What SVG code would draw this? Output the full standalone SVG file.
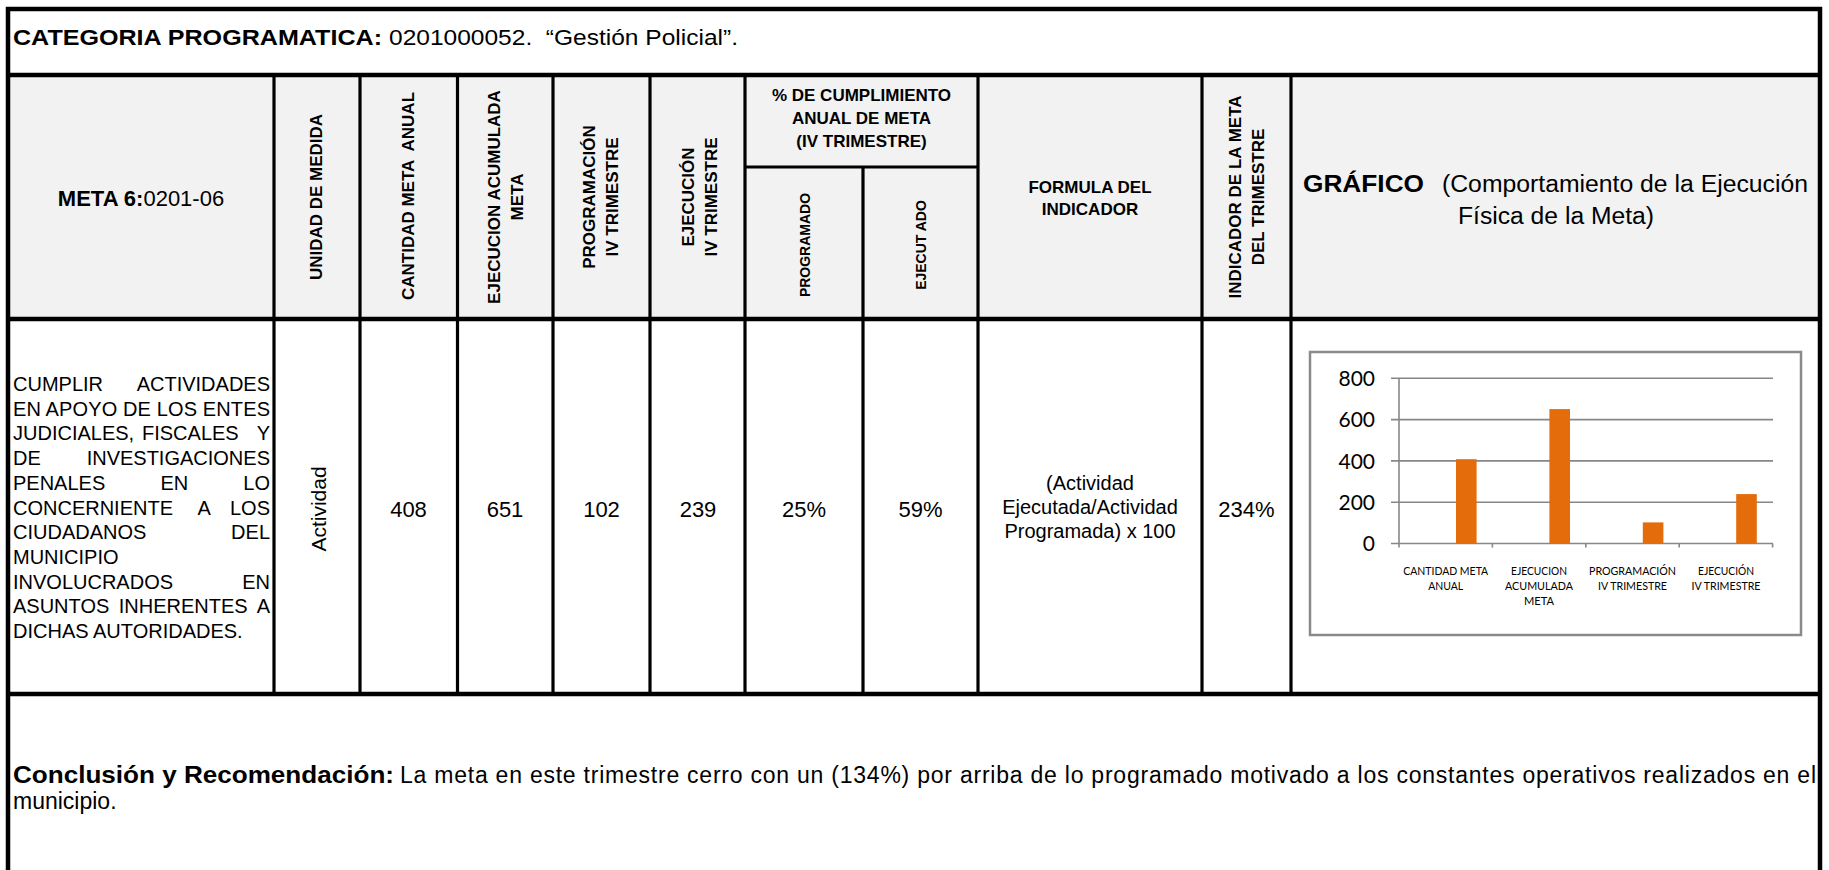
<svg xmlns="http://www.w3.org/2000/svg" width="1829" height="870" viewBox="0 0 1829 870">
<style>
  .t{font-family:"Liberation Sans",Arial,Helvetica,sans-serif;fill:#000}
  .b{font-weight:bold}
  .vh{font-family:"Liberation Sans",Arial,sans-serif;font-weight:bold;font-size:17px;text-anchor:middle}
  .sh{font-family:"Liberation Sans",Arial,sans-serif;font-weight:bold;font-size:14px;text-anchor:middle}
  .hc{font-family:"Liberation Sans",Arial,sans-serif;font-weight:bold;font-size:17px;text-anchor:middle}
  .d{font-family:"Liberation Sans",Arial,sans-serif;font-size:20px}
  .num{font-family:"Liberation Sans",Arial,sans-serif;font-size:22px;text-anchor:middle}
  .thick{stroke:#000;stroke-width:4.5;fill:none}
  .col{stroke:#000;stroke-width:3.2;fill:none}
  .grid{stroke:#878787;stroke-width:1.6;fill:none}
  .bar{fill:#e46c0a}
  .ylab{font-family:Lato,"Open Sans",sans-serif;font-size:21px;text-anchor:end;fill:#000}
  .clab{font-family:Lato,"Open Sans",sans-serif;font-size:11px;text-anchor:middle;fill:#000}
</style>

<!-- backgrounds -->
<g id="backgrounds">
  <rect x="8" y="9" width="1812" height="880" fill="#ffffff"/>
  <rect x="8" y="75" width="1812" height="244" fill="#f2f2f2"/>
</g>

<!-- grid lines of the table -->
<g id="table-lines">
  <rect class="thick" x="8" y="9" width="1812" height="900"/>
  <line class="thick" x1="8" y1="75" x2="1820" y2="75"/>
  <line class="thick" x1="8" y1="319" x2="1820" y2="319"/>
  <line class="thick" x1="8" y1="694" x2="1820" y2="694"/>
  <line class="col" x1="274" y1="75" x2="274" y2="694"/>
  <line class="col" x1="360" y1="75" x2="360" y2="694"/>
  <line class="col" x1="457.5" y1="75" x2="457.5" y2="694"/>
  <line class="col" x1="553" y1="75" x2="553" y2="694"/>
  <line class="col" x1="650" y1="75" x2="650" y2="694"/>
  <line class="col" x1="745" y1="75" x2="745" y2="694"/>
  <line class="col" x1="863" y1="167" x2="863" y2="694"/>
  <line class="col" x1="978" y1="75" x2="978" y2="694"/>
  <line class="col" x1="1202" y1="75" x2="1202" y2="694"/>
  <line class="col" x1="1291" y1="75" x2="1291" y2="694"/>
  <line class="col" x1="745" y1="167" x2="978" y2="167"/>
</g>

<g id="title">
  <text class="t b" x="13" y="45" font-size="22" textLength="369" lengthAdjust="spacingAndGlyphs">CATEGORIA PROGRAMATICA:</text>
  <text class="t" x="389" y="45" font-size="22" textLength="349" lengthAdjust="spacingAndGlyphs" xml:space="preserve">0201000052.  “Gestión Policial”.</text>
</g>

<g id="h-meta">
  <text class="t" x="141" y="206" font-size="22" text-anchor="middle"><tspan font-weight="bold">META 6:</tspan>0201-06</text>
</g>
<g id="h-unidad">
  <text class="vh" transform="translate(316,197) rotate(-90)" y="6">UNIDAD DE MEDIDA</text>
</g>
<g id="h-cantidad">
  <text class="vh" transform="translate(407.5,196) rotate(-90)" y="6" xml:space="preserve">CANTIDAD META  ANUAL</text>
</g>
<g id="h-ejec-acum">
  <text class="vh" transform="translate(505,197) rotate(-90)"><tspan x="0" y="-5.5">EJECUCION ACUMULADA</tspan><tspan x="0" y="17.5">META</tspan></text>
</g>
<g id="h-prog-iv">
  <text class="vh" transform="translate(600,197) rotate(-90)"><tspan x="0" y="-5.5">PROGRAMACIÓN</tspan><tspan x="0" y="17.5">IV TRIMESTRE</tspan></text>
</g>
<g id="h-ejec-iv">
  <text class="vh" transform="translate(699,197) rotate(-90)"><tspan x="0" y="-5.5">EJECUCIÓN</tspan><tspan x="0" y="17.5">IV TRIMESTRE</tspan></text>
</g>
<g id="h-cumplimiento">
  <text class="hc" x="861.5" y="101">% DE CUMPLIMIENTO</text>
  <text class="hc" x="861.5" y="124">ANUAL DE META</text>
  <text class="hc" x="861.5" y="147">(IV TRIMESTRE)</text>
</g>
<g id="h-programado">
  <text class="sh" transform="translate(805,245) rotate(-90)" y="5">PROGRAMADO</text>
</g>
<g id="h-ejecutado">
  <text class="sh" transform="translate(921,245) rotate(-90)" y="5">EJECUT ADO</text>
</g>
<g id="h-formula">
  <text class="hc" x="1090" y="193">FORMULA DEL</text>
  <text class="hc" x="1090" y="215">INDICADOR</text>
</g>
<g id="h-indicador">
  <text class="vh" transform="translate(1246,197) rotate(-90)"><tspan x="0" y="-5.5">INDICADOR DE LA META</tspan><tspan x="0" y="17.5">DEL TRIMESTRE</tspan></text>
</g>
<g id="h-grafico">
  <text class="t b" x="1303" y="192" font-size="23" textLength="121" lengthAdjust="spacingAndGlyphs">GRÁFICO</text>
  <text class="t" x="1442" y="192" font-size="23" textLength="366" lengthAdjust="spacingAndGlyphs">(Comportamiento de la Ejecución</text>
  <text class="t" x="1458" y="224" font-size="23" textLength="196" lengthAdjust="spacingAndGlyphs">Física de la Meta)</text>
</g>

<!-- data row -->
<g id="d-descripcion" class="d">
  <text x="13" y="391">CUMPLIR</text><text x="270" y="391" text-anchor="end">ACTIVIDADES</text>
  <text x="13" y="415.7" textLength="257" lengthAdjust="spacing">EN APOYO DE LOS ENTES</text>
  <text x="13" y="440.4">JUDICIALES,</text><text x="142" y="440.4">FISCALES</text><text x="270" y="440.4" text-anchor="end">Y</text>
  <text x="13" y="465.1">DE</text><text x="270" y="465.1" text-anchor="end">INVESTIGACIONES</text>
  <text x="13" y="489.8">PENALES</text><text x="160.5" y="489.8">EN</text><text x="270" y="489.8" text-anchor="end">LO</text>
  <text x="13" y="514.5">CONCERNIENTE</text><text x="197.6" y="514.5">A</text><text x="270" y="514.5" text-anchor="end">LOS</text>
  <text x="13" y="539.2">CIUDADANOS</text><text x="270" y="539.2" text-anchor="end">DEL</text>
  <text x="13" y="563.9">MUNICIPIO</text>
  <text x="13" y="588.6">INVOLUCRADOS</text><text x="270" y="588.6" text-anchor="end">EN</text>
  <text x="13" y="613.3">ASUNTOS</text><text x="118.7" y="613.3">INHERENTES</text><text x="270" y="613.3" text-anchor="end">A</text>
  <text x="13" y="638">DICHAS AUTORIDADES.</text>
</g>
<g id="d-unidad">
  <text class="t" font-size="21" text-anchor="middle" transform="translate(318,509) rotate(-90)" y="7.5">Actividad</text>
</g>
<g id="d-valores">
  <text class="num" x="408.5" y="517">408</text>
  <text class="num" x="505" y="517">651</text>
  <text class="num" x="601.5" y="517">102</text>
  <text class="num" x="698" y="517">239</text>
  <text class="num" x="804" y="517">25%</text>
  <text class="num" x="920.5" y="517">59%</text>
  <text class="num" x="1246.5" y="517">234%</text>
</g>
<g id="d-formula">
  <text class="d" x="1090" y="490" text-anchor="middle">(Actividad</text>
  <text class="d" x="1090" y="514" text-anchor="middle">Ejecutada/Actividad</text>
  <text class="d" x="1090" y="538" text-anchor="middle">Programada) x 100</text>
</g>

<!-- chart -->
<g id="chart">
  <rect x="1310" y="352" width="491" height="283" fill="#ffffff" stroke="#8a8a8a" stroke-width="2.5"/>
  <line class="grid" x1="1391" y1="378.3" x2="1773" y2="378.3"/>
  <line class="grid" x1="1391" y1="419.6" x2="1773" y2="419.6"/>
  <line class="grid" x1="1391" y1="460.9" x2="1773" y2="460.9"/>
  <line class="grid" x1="1391" y1="502.2" x2="1773" y2="502.2"/>
  <line class="grid" x1="1391" y1="543.5" x2="1773" y2="543.5"/>
  <line class="grid" x1="1399" y1="378.3" x2="1399" y2="547.5"/>
  <line class="grid" x1="1492.4" y1="543.5" x2="1492.4" y2="547.5"/>
  <line class="grid" x1="1585.8" y1="543.5" x2="1585.8" y2="547.5"/>
  <line class="grid" x1="1679.2" y1="543.5" x2="1679.2" y2="547.5"/>
  <line class="grid" x1="1772.6" y1="543.5" x2="1772.6" y2="547.5"/>
  <rect class="bar" x="1456" y="459.2" width="20.6" height="84.3"/>
  <rect class="bar" x="1549.4" y="409.1" width="20.6" height="134.4"/>
  <rect class="bar" x="1642.8" y="522.4" width="20.6" height="21.1"/>
  <rect class="bar" x="1736.2" y="494.1" width="20.6" height="49.4"/>
  <text class="ylab" x="1375" y="386">800</text>
  <text class="ylab" x="1375" y="427.3">600</text>
  <text class="ylab" x="1375" y="468.6">400</text>
  <text class="ylab" x="1375" y="509.9">200</text>
  <text class="ylab" x="1375" y="551.2">0</text>
  <text class="clab" x="1445.7" y="575" textLength="85" lengthAdjust="spacingAndGlyphs">CANTIDAD META</text>
  <text class="clab" x="1445.7" y="590" textLength="35" lengthAdjust="spacingAndGlyphs">ANUAL</text>
  <text class="clab" x="1539" y="575" textLength="56" lengthAdjust="spacingAndGlyphs">EJECUCION</text>
  <text class="clab" x="1539" y="590" textLength="68" lengthAdjust="spacingAndGlyphs">ACUMULADA</text>
  <text class="clab" x="1539" y="605" textLength="30" lengthAdjust="spacingAndGlyphs">META</text>
  <text class="clab" x="1632.5" y="575" textLength="87" lengthAdjust="spacingAndGlyphs">PROGRAMACIÓN</text>
  <text class="clab" x="1632.5" y="590" textLength="69" lengthAdjust="spacingAndGlyphs">IV TRIMESTRE</text>
  <text class="clab" x="1726" y="575" textLength="56" lengthAdjust="spacingAndGlyphs">EJECUCIÓN</text>
  <text class="clab" x="1726" y="590" textLength="69" lengthAdjust="spacingAndGlyphs">IV TRIMESTRE</text>
</g>

<!-- conclusion -->
<g id="conclusion">
  <text class="t b" x="13" y="783" font-size="23" textLength="381" lengthAdjust="spacingAndGlyphs">Conclusión y Recomendación:</text>
  <text class="t" x="400" y="783" font-size="23" textLength="1416" lengthAdjust="spacing">La meta en este trimestre cerro con un (134%) por arriba de lo programado motivado a los constantes operativos realizados en el</text>
  <text class="t" x="13" y="809" font-size="23">municipio.</text>
</g>
</svg>
